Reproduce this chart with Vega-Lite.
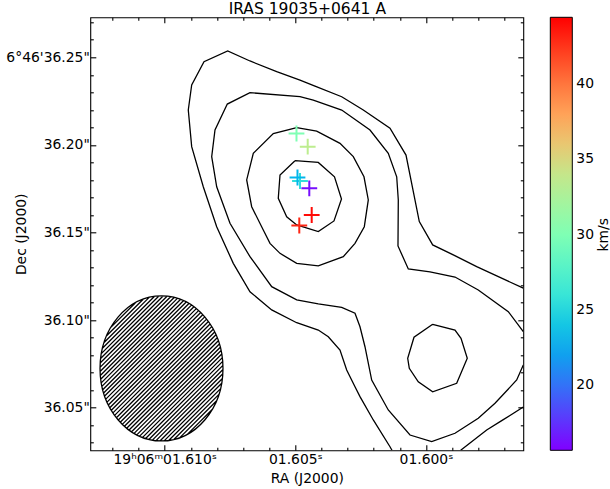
{
  "$schema": "https://vega.github.io/schema/vega-lite/v6.json",
  "width": 433,
  "height": 433,
  "autosize": {"type": "none"},
  "padding": {"left": 90.3, "top": 17.3, "right": 86.7, "bottom": 38.7},
  "background": "white",
  "datasets": {
    "contours": [
      {"seg": "L1a", "i": 0, "ra": 1.596276, "dec": 36.1182},
      {"seg": "L1a", "i": 1, "ra": 1.598060, "dec": 36.1305},
      {"seg": "L1a", "i": 2, "ra": 1.598955, "dec": 36.1372},
      {"seg": "L1a", "i": 3, "ra": 1.599744, "dec": 36.1429},
      {"seg": "L1a", "i": 4, "ra": 1.600256, "dec": 36.1562},
      {"seg": "L1a", "i": 5, "ra": 1.600765, "dec": 36.1942},
      {"seg": "L1a", "i": 6, "ra": 1.601378, "dec": 36.2095},
      {"seg": "L1a", "i": 7, "ra": 1.602400, "dec": 36.2199},
      {"seg": "L1a", "i": 8, "ra": 1.603226, "dec": 36.2275},
      {"seg": "L1a", "i": 9, "ra": 1.604248, "dec": 36.2336},
      {"seg": "L1a", "i": 10, "ra": 1.604822, "dec": 36.2370},
      {"seg": "L1a", "i": 11, "ra": 1.605714, "dec": 36.2418},
      {"seg": "L1a", "i": 12, "ra": 1.606736, "dec": 36.2479},
      {"seg": "L1a", "i": 13, "ra": 1.607589, "dec": 36.2536},
      {"seg": "L1a", "i": 14, "ra": 1.608496, "dec": 36.2475},
      {"seg": "L1a", "i": 15, "ra": 1.608967, "dec": 36.2342},
      {"seg": "L1a", "i": 16, "ra": 1.609097, "dec": 36.2199},
      {"seg": "L1a", "i": 17, "ra": 1.608967, "dec": 36.1990},
      {"seg": "L1a", "i": 18, "ra": 1.608523, "dec": 36.1761},
      {"seg": "L1a", "i": 19, "ra": 1.608010, "dec": 36.1533},
      {"seg": "L1a", "i": 20, "ra": 1.607375, "dec": 36.1324},
      {"seg": "L1a", "i": 21, "ra": 1.606736, "dec": 36.1162},
      {"seg": "L1a", "i": 22, "ra": 1.605905, "dec": 36.1058},
      {"seg": "L1a", "i": 23, "ra": 1.604948, "dec": 36.0985},
      {"seg": "L1a", "i": 24, "ra": 1.604122, "dec": 36.0943},
      {"seg": "L1a", "i": 25, "ra": 1.603739, "dec": 36.0905},
      {"seg": "L1a", "i": 26, "ra": 1.603291, "dec": 36.0829},
      {"seg": "L1a", "i": 27, "ra": 1.603035, "dec": 36.0715},
      {"seg": "L1a", "i": 28, "ra": 1.602717, "dec": 36.0620},
      {"seg": "L1a", "i": 29, "ra": 1.602526, "dec": 36.0563},
      {"seg": "L1a", "i": 30, "ra": 1.602017, "dec": 36.0430},
      {"seg": "L1a", "i": 31, "ra": 1.601378, "dec": 36.0277},
      {"seg": "L1a", "i": 32, "ra": 1.601301, "dec": 36.0257},
      {"seg": "L1b", "i": 0, "ra": 1.598672, "dec": 36.0257},
      {"seg": "L1b", "i": 1, "ra": 1.597677, "dec": 36.0373},
      {"seg": "L1b", "i": 2, "ra": 1.597103, "dec": 36.0426},
      {"seg": "L1b", "i": 3, "ra": 1.596276, "dec": 36.0504},
      {"seg": "L2", "i": 0, "ra": 1.596276, "dec": 36.0934},
      {"seg": "L2", "i": 1, "ra": 1.596850, "dec": 36.1048},
      {"seg": "L2", "i": 2, "ra": 1.597999, "dec": 36.1172},
      {"seg": "L2", "i": 3, "ra": 1.598890, "dec": 36.1246},
      {"seg": "L2", "i": 4, "ra": 1.599847, "dec": 36.1275},
      {"seg": "L2", "i": 5, "ra": 1.600677, "dec": 36.1292},
      {"seg": "L2", "i": 6, "ra": 1.601072, "dec": 36.1423},
      {"seg": "L2", "i": 7, "ra": 1.601060, "dec": 36.1686},
      {"seg": "L2", "i": 8, "ra": 1.601121, "dec": 36.1818},
      {"seg": "L2", "i": 9, "ra": 1.601443, "dec": 36.1952},
      {"seg": "L2", "i": 10, "ra": 1.602143, "dec": 36.2085},
      {"seg": "L2", "i": 11, "ra": 1.603226, "dec": 36.2199},
      {"seg": "L2", "i": 12, "ra": 1.604313, "dec": 36.2256},
      {"seg": "L2", "i": 13, "ra": 1.604822, "dec": 36.2275},
      {"seg": "L2", "i": 14, "ra": 1.606736, "dec": 36.2298},
      {"seg": "L2", "i": 15, "ra": 1.607604, "dec": 36.2233},
      {"seg": "L2", "i": 16, "ra": 1.608075, "dec": 36.2085},
      {"seg": "L2", "i": 17, "ra": 1.608201, "dec": 36.1933},
      {"seg": "L2", "i": 18, "ra": 1.608010, "dec": 36.1761},
      {"seg": "L2", "i": 19, "ra": 1.607501, "dec": 36.1553},
      {"seg": "L2", "i": 20, "ra": 1.606736, "dec": 36.1362},
      {"seg": "L2", "i": 21, "ra": 1.605905, "dec": 36.1191},
      {"seg": "L2", "i": 22, "ra": 1.604948, "dec": 36.1115},
      {"seg": "L2", "i": 23, "ra": 1.604122, "dec": 36.1092},
      {"seg": "L2", "i": 24, "ra": 1.603226, "dec": 36.1073},
      {"seg": "L2", "i": 25, "ra": 1.602717, "dec": 36.1039},
      {"seg": "L2", "i": 26, "ra": 1.602526, "dec": 36.0962},
      {"seg": "L2", "i": 27, "ra": 1.602335, "dec": 36.0848},
      {"seg": "L2", "i": 28, "ra": 1.602078, "dec": 36.0658},
      {"seg": "L2", "i": 29, "ra": 1.601443, "dec": 36.0487},
      {"seg": "L2", "i": 30, "ra": 1.600612, "dec": 36.0344},
      {"seg": "L2", "i": 31, "ra": 1.599782, "dec": 36.0306},
      {"seg": "L2", "i": 32, "ra": 1.598890, "dec": 36.0354},
      {"seg": "L2", "i": 33, "ra": 1.597999, "dec": 36.0440},
      {"seg": "L2", "i": 34, "ra": 1.597359, "dec": 36.0525},
      {"seg": "L2", "i": 35, "ra": 1.596529, "dec": 36.0658},
      {"seg": "L2", "i": 36, "ra": 1.596276, "dec": 36.0744},
      {"seg": "L3a", "i": 0, "ra": 1.604948, "dec": 36.2098},
      {"seg": "L3a", "i": 1, "ra": 1.604183, "dec": 36.2079},
      {"seg": "L3a", "i": 2, "ra": 1.603291, "dec": 36.2009},
      {"seg": "L3a", "i": 3, "ra": 1.602782, "dec": 36.1933},
      {"seg": "L3a", "i": 4, "ra": 1.602373, "dec": 36.1818},
      {"seg": "L3a", "i": 5, "ra": 1.602208, "dec": 36.1686},
      {"seg": "L3a", "i": 6, "ra": 1.602361, "dec": 36.1533},
      {"seg": "L3a", "i": 7, "ra": 1.602717, "dec": 36.1438},
      {"seg": "L3a", "i": 8, "ra": 1.603165, "dec": 36.1362},
      {"seg": "L3a", "i": 9, "ra": 1.604122, "dec": 36.1310},
      {"seg": "L3a", "i": 10, "ra": 1.604948, "dec": 36.1324},
      {"seg": "L3a", "i": 11, "ra": 1.605587, "dec": 36.1381},
      {"seg": "L3a", "i": 12, "ra": 1.605970, "dec": 36.1438},
      {"seg": "L3a", "i": 13, "ra": 1.606227, "dec": 36.1514},
      {"seg": "L3a", "i": 14, "ra": 1.606671, "dec": 36.1647},
      {"seg": "L3a", "i": 15, "ra": 1.606862, "dec": 36.1800},
      {"seg": "L3a", "i": 16, "ra": 1.606609, "dec": 36.1952},
      {"seg": "L3a", "i": 17, "ra": 1.605844, "dec": 36.2065},
      {"seg": "L3a", "i": 18, "ra": 1.604948, "dec": 36.2098},
      {"seg": "L3b", "i": 0, "ra": 1.599744, "dec": 36.0976},
      {"seg": "L3b", "i": 1, "ra": 1.598890, "dec": 36.0943},
      {"seg": "L3b", "i": 2, "ra": 1.598660, "dec": 36.0896},
      {"seg": "L3b", "i": 3, "ra": 1.598420, "dec": 36.0782},
      {"seg": "L3b", "i": 4, "ra": 1.598825, "dec": 36.0639},
      {"seg": "L3b", "i": 5, "ra": 1.599744, "dec": 36.0591},
      {"seg": "L3b", "i": 6, "ra": 1.600295, "dec": 36.0648},
      {"seg": "L3b", "i": 7, "ra": 1.600639, "dec": 36.0725},
      {"seg": "L3b", "i": 8, "ra": 1.600700, "dec": 36.0782},
      {"seg": "L3b", "i": 9, "ra": 1.600459, "dec": 36.0902},
      {"seg": "L3b", "i": 10, "ra": 1.599744, "dec": 36.0976},
      {"seg": "L4", "i": 0, "ra": 1.605013, "dec": 36.1910},
      {"seg": "L4", "i": 1, "ra": 1.604122, "dec": 36.1900},
      {"seg": "L4", "i": 2, "ra": 1.603502, "dec": 36.1818},
      {"seg": "L4", "i": 3, "ra": 1.603234, "dec": 36.1691},
      {"seg": "L4", "i": 4, "ra": 1.603521, "dec": 36.1566},
      {"seg": "L4", "i": 5, "ra": 1.604122, "dec": 36.1505},
      {"seg": "L4", "i": 6, "ra": 1.604948, "dec": 36.1543},
      {"seg": "L4", "i": 7, "ra": 1.605331, "dec": 36.1590},
      {"seg": "L4", "i": 8, "ra": 1.605653, "dec": 36.1695},
      {"seg": "L4", "i": 9, "ra": 1.605587, "dec": 36.1828},
      {"seg": "L4", "i": 10, "ra": 1.605013, "dec": 36.1910}
    ],
    "beam": [{"ra": 1.610122, "dec": 36.0724}],
    "masers": [
      {"ra": 1.604956, "dec": 36.2065, "v": 30},
      {"ra": 1.604527, "dec": 36.1990, "v": 33.5},
      {"ra": 1.604822, "dec": 36.1794, "v": 25.5},
      {"ra": 1.604918, "dec": 36.1814, "v": 23},
      {"ra": 1.604466, "dec": 36.1752, "v": 16.2},
      {"ra": 1.604374, "dec": 36.1600, "v": 44},
      {"ra": 1.604849, "dec": 36.1540, "v": 43}
    ]
  },
  "layer": [
    {
      "data": {"name": "contours"},
      "mark": {"type": "line", "color": "black", "strokeWidth": 1.3, "clip": true},
      "encoding": {
        "x": {"field": "ra", "type": "quantitative",
          "scale": {"domain": [1.596276, 1.612847], "reverse": true, "zero": false, "nice": false},
          "axis": {"orient": "bottom",
            "values": [1.597, 1.598, 1.599, 1.6, 1.601, 1.602, 1.603, 1.604, 1.605, 1.606, 1.607, 1.608, 1.609, 1.61, 1.611, 1.612],
            "tickSize": {"condition": {"test": "round(datum.value*1000)%5==0", "value": -5.5}, "value": -3},
            "labelExpr": "round(datum.value*1000)==1610 ? '19ʰ06ᵐ01.610ˢ' : (round(datum.value*1000)%5==0 ? '0' + format(datum.value, '.3f') + 'ˢ' : '')",
            "labelPadding": 7.7, "labelFlush": false, "labelOverlap": false,
            "title": "RA (J2000)", "titleBaseline": "alphabetic", "titleY": 31.8}},
        "y": {"field": "dec", "type": "quantitative",
          "scale": {"domain": [36.02568, 36.27283], "zero": false, "nice": false},
          "axis": {"orient": "left",
            "values": [36.03, 36.04, 36.05, 36.06, 36.07, 36.08, 36.09, 36.1, 36.11, 36.12, 36.13, 36.14, 36.15, 36.16, 36.17, 36.18, 36.19, 36.2, 36.21, 36.22, 36.23, 36.24, 36.25, 36.26, 36.27],
            "tickSize": {"condition": {"test": "round(datum.value*100)%5==0", "value": -5.5}, "value": -3},
            "labelExpr": "round(datum.value*100)==3625 ? '6°46' + \"'\" + '36.25\"' : (round(datum.value*100)%5==0 ? format(datum.value, '.2f') + '\"' : '')",
            "labelPadding": 6.5, "labelFlush": false, "labelOverlap": false,
            "title": "Dec (J2000)", "titleBaseline": "alphabetic", "titleAngle": 270, "titleAlign": "center", "titleX": -65}},
        "detail": {"field": "seg", "type": "nominal"},
        "order": {"field": "i", "type": "quantitative"}
      }
    },
    {
      "data": {"name": "beam"},
      "mark": {"type": "point", "shape": "M-0.848,0A0.848,1,0,1,1,0.848,0A0.848,1,0,1,1,-0.848,0ZM-0.647,0.647L0.647,-0.647M-0.622,0.680L0.670,-0.613M-0.670,0.613L0.622,-0.680M-0.596,0.711L0.692,-0.577M-0.692,0.577L0.596,-0.711M-0.569,0.741L0.713,-0.541M-0.713,0.541L0.569,-0.741M-0.541,0.771L0.733,-0.503M-0.733,0.503L0.541,-0.771M-0.511,0.798L0.751,-0.464M-0.751,0.464L0.511,-0.798M-0.480,0.825L0.768,-0.423M-0.768,0.423L0.480,-0.825M-0.447,0.850L0.784,-0.381M-0.784,0.381L0.447,-0.850M-0.413,0.873L0.798,-0.338M-0.798,0.338L0.413,-0.873M-0.378,0.895L0.811,-0.293M-0.811,0.293L0.378,-0.895M-0.341,0.916L0.822,-0.247M-0.822,0.247L0.341,-0.916M-0.302,0.934L0.831,-0.199M-0.831,0.199L0.302,-0.934M-0.261,0.951L0.839,-0.149M-0.839,0.149L0.261,-0.951M-0.219,0.966L0.844,-0.097M-0.844,0.097L0.219,-0.966M-0.174,0.979L0.847,-0.042M-0.847,0.042L0.174,-0.979M-0.126,0.989L0.848,0.015M-0.848,-0.015L0.126,-0.989M-0.076,0.996L0.846,0.074M-0.846,-0.074L0.076,-0.996M-0.022,1.000L0.840,0.138M-0.840,-0.138L0.022,-1.000M0.036,0.999L0.830,0.205M-0.830,-0.205L-0.036,-0.999M0.099,0.993L0.815,0.278M-0.815,-0.278L-0.099,-0.993M0.170,0.980L0.792,0.358M-0.792,-0.358L-0.170,-0.980M0.253,0.954L0.757,0.450M-0.757,-0.450L-0.253,-0.954M0.359,0.906L0.699,0.566M-0.699,-0.566L-0.359,-0.906",
        "size": 21025, "filled": false, "color": "black", "strokeWidth": 1.3, "opacity": 1},
      "encoding": {
        "x": {"field": "ra", "type": "quantitative", "scale": {"domain": [1.596276, 1.612847], "reverse": true, "zero": false, "nice": false}, "axis": null},
        "y": {"field": "dec", "type": "quantitative", "scale": {"domain": [36.02568, 36.27283], "zero": false, "nice": false}, "axis": null}
      }
    },
    {
      "data": {"name": "masers"},
      "mark": {"type": "point", "shape": "M-1,0L1,0M0,-1L0,1", "size": 250, "filled": false, "strokeWidth": 2, "opacity": 1},
      "encoding": {
        "x": {"field": "ra", "type": "quantitative",
          "scale": {"domain": [1.596276, 1.612847], "reverse": true, "zero": false, "nice": false},
          "axis": {"orient": "top",
            "values": [1.597, 1.598, 1.599, 1.6, 1.601, 1.602, 1.603, 1.604, 1.605, 1.606, 1.607, 1.608, 1.609, 1.61, 1.611, 1.612],
            "tickSize": {"condition": {"test": "round(datum.value*1000)%5==0", "value": -5.5}, "value": -3},
            "labels": false,
            "title": "IRAS 19035+0641 A", "titleFontSize": 15.5, "titleBaseline": "alphabetic", "titleAlign": "center", "titleY": -3.3}},
        "y": {"field": "dec", "type": "quantitative",
          "scale": {"domain": [36.02568, 36.27283], "zero": false, "nice": false},
          "axis": {"orient": "right",
            "values": [36.03, 36.04, 36.05, 36.06, 36.07, 36.08, 36.09, 36.1, 36.11, 36.12, 36.13, 36.14, 36.15, 36.16, 36.17, 36.18, 36.19, 36.2, 36.21, 36.22, 36.23, 36.24, 36.25, 36.26, 36.27],
            "tickSize": {"condition": {"test": "round(datum.value*100)%5==0", "value": -5.5}, "value": -3},
            "labels": false,
            "title": "km/s", "titleAngle": 270, "titleBaseline": "alphabetic", "titleAlign": "center", "titleX": 83.7, "titleY": 217}},
        "color": {"field": "v", "type": "quantitative",
          "scale": {"type": "linear", "domain": [15.7, 19.2875, 22.875, 26.4625, 30.05, 33.6375, 37.225, 40.8125, 44.4],
            "range": ["#8000ff", "#4062fa", "#00b4ec", "#40ecd4", "#80ffb4", "#bfec8e", "#ffb462", "#ff6232", "#ff0000"], "interpolate": "rgb"},
          "legend": {"orient": "none", "legendX": 460, "legendY": 0, "direction": "vertical", "gradientLength": 433, "gradientThickness": 22,
            "title": null, "values": [20, 25, 30, 35, 40], "labelOffset": 4, "padding": 0,
            "gradientStrokeColor": "black", "gradientStrokeWidth": 1, "labelFontSize": 13.9, "labelFont": "DejaVu Sans", "labelColor": "black", "labelOverlap": false}}
      }
    }
  ],
  "resolve": {"axis": {"x": "independent", "y": "independent"}},
  "config": {
    "view": {"stroke": "black", "strokeWidth": 1.1},
    "axis": {"grid": false, "domain": false, "tickColor": "black", "tickWidth": 1.1, "labelFont": "DejaVu Sans", "labelFontSize": 13.9, "labelColor": "black", "titleFont": "DejaVu Sans", "titleFontSize": 13.9, "titleFontWeight": "normal", "titleColor": "black"}
  }
}
